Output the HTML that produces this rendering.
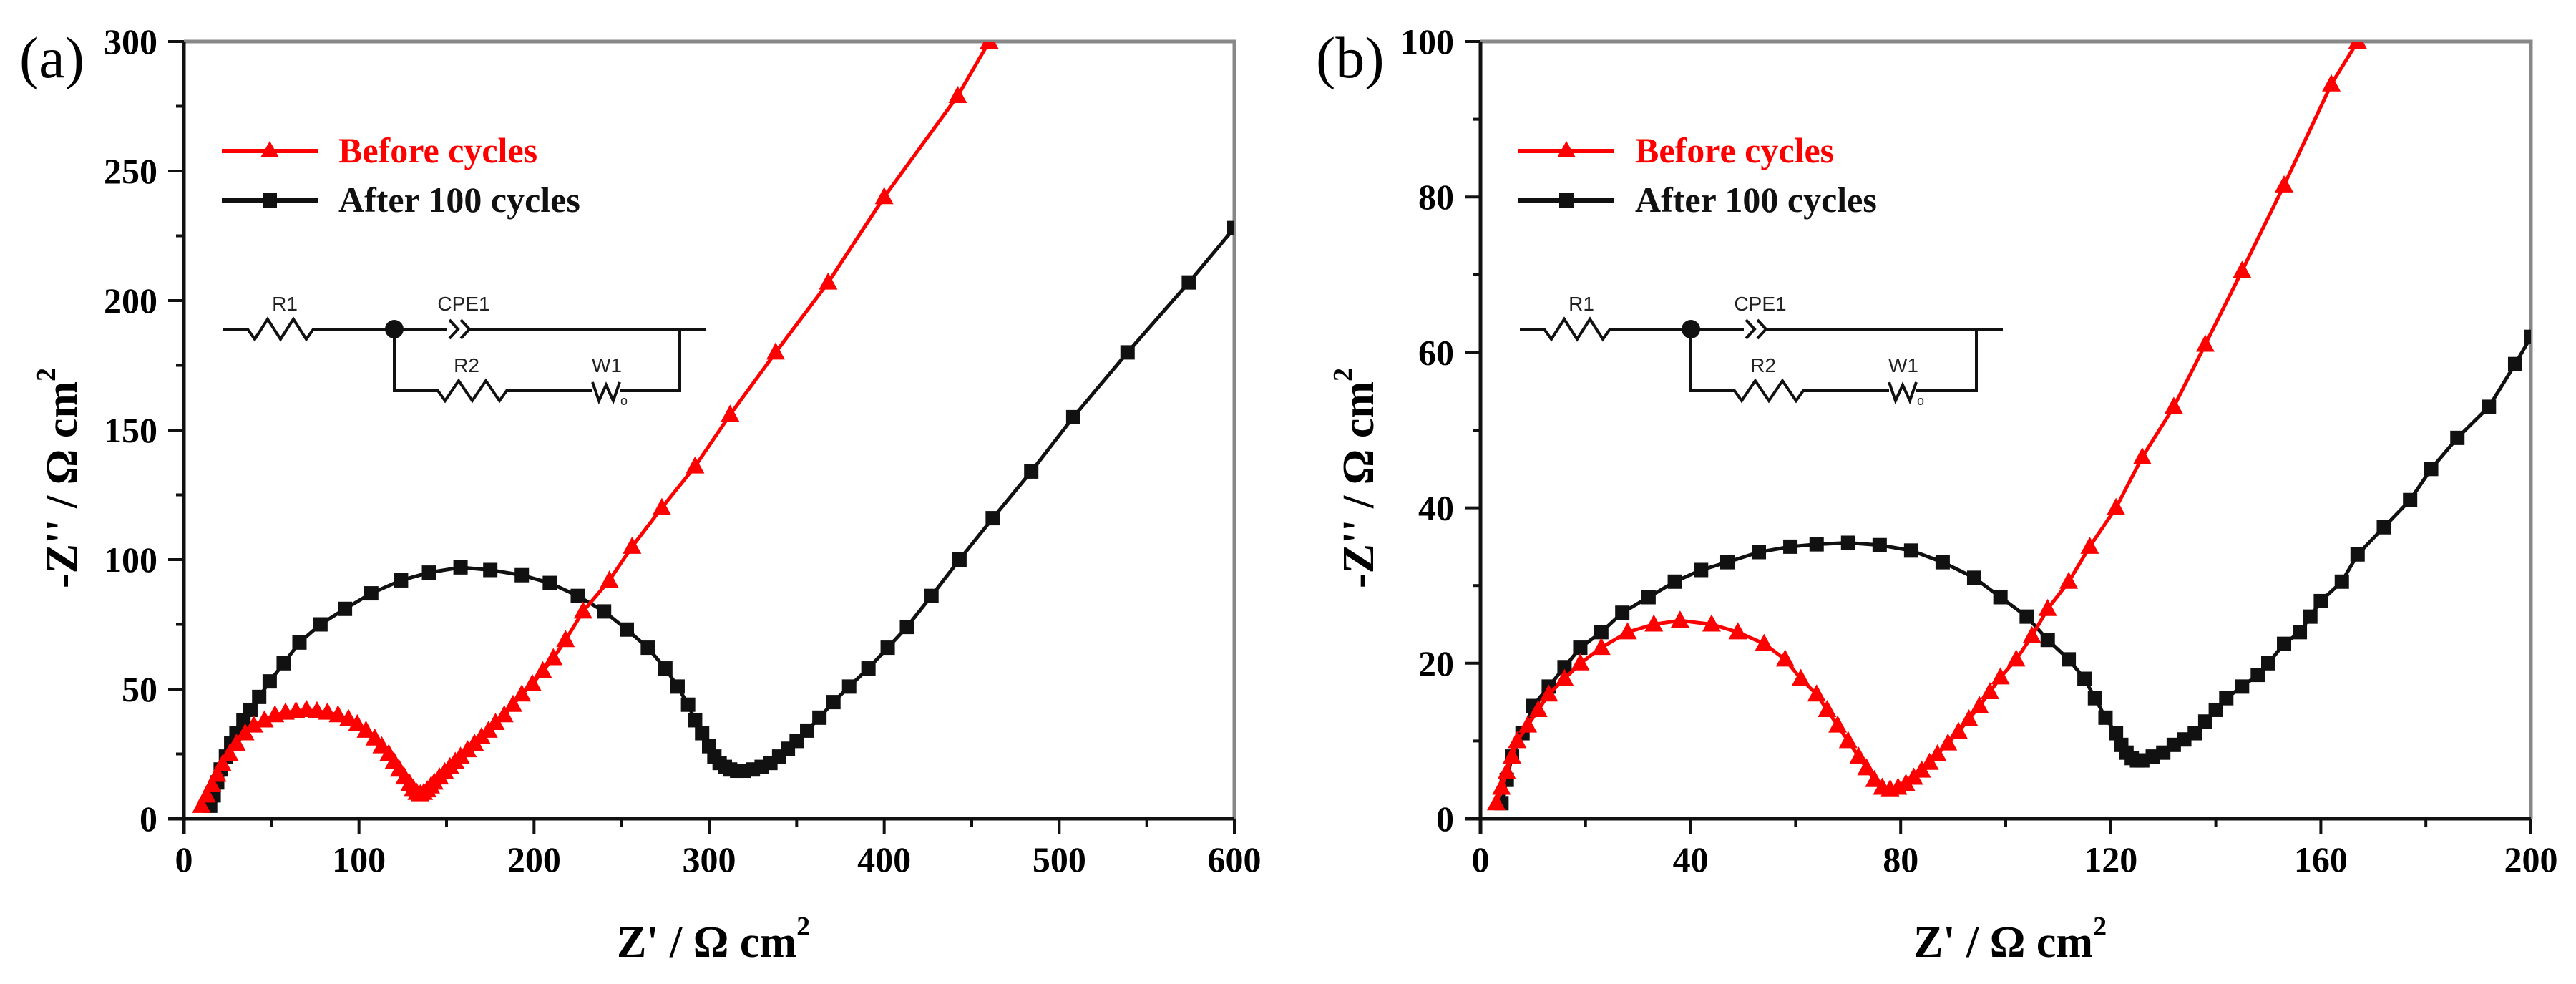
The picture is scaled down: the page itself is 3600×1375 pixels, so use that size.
<!DOCTYPE html>
<html><head><meta charset="utf-8"><style>
html,body{margin:0;padding:0;background:#fff;}
svg{display:block;}
text{font-family:"Liberation Serif","DejaVu Serif",serif;}
.ck text{font-family:"Liberation Sans","DejaVu Sans",sans-serif;}
</style></head><body>
<svg id="fig" width="3600" height="1375" viewBox="0 0 3600 1375" xmlns="http://www.w3.org/2000/svg"></svg>
<script>
// Panel (a) data
const redA_x=[10,13,16,19,22,26,30,35,40,46,52,58,64,70,76,82,88,94,99,104,109,113,117,120,123,126,129,131,133,135,137,139,141,143,146,149,152,155,158,162,166,170,174,178,183,188,193,199,205,211,218,228,243,256,273,292,312,338,368,400,442,460];
const redA_y=[5,9,13,17,21,25,29,33,36,38,40,41,41.5,42,41.5,41,40,38.5,36.5,34,31,28,25,22,19,16,13.5,11.5,10,9.5,10,11,12.5,14,16,18,20,22,24,26.5,29,31.5,34,37,40,44,48,52,57,62,69,80,92,105,120,136,156,180,207,240,279,300];
const blackA_x=[15,17,19,21,24,27,30,34,38,43,49,57,66,78,92,107,124,140,158,175,193,209,225,240,253,265,275,282,288,292,296,300,303,306,309,312,316,320,325,330,335,340,345,350,356,363,371,380,391,402,413,427,443,462,484,508,539,574,600];
const blackA_y=[5,9,14,19,24,29,33,38,42,47,53,60,68,75,81,87,92,95,97,96,94,91,86,80,73,66,58,51,44,38,33,28,24,21.5,20,19,18.5,18.5,19,20,21.5,24,27,30,34,39,45,51,58,66,74,86,100,116,134,155,180,207,228];
// Panel (b) data
const redB_x=[3,4,5,6,7,9,11,13,16,19,23,28,33,38,44,49,54,58,61,64,66,68,70,72,73.5,75,76.5,78,79.5,81,82.5,84,85.5,87,89,91,93,95,97,99,102,105,108,112,116,121,126,132,138,145,153,162,167];
const redB_y=[2,4,6,8,10,12,14,16,18,20,22,24,25,25.5,25,24,22.5,20.5,18,16,14,12,10,8,6.5,5,4,3.8,4,4.5,5.3,6.2,7.2,8.3,9.7,11.2,12.8,14.5,16.3,18.2,20.5,23.5,27,30.5,35,40,46.5,53,61,70.5,81.5,94.5,100];
const blackB_x=[4,5,6,8,10,13,16,19,23,27,32,37,42,47,53,59,64,70,76,82,88,94,99,104,108,112,115,117,119,121,122,123,124,125,126,128,130,132,134,136,138,140,142,145,148,150,153,156,158,160,164,167,172,177,181,186,192,197,200];
const blackB_y=[2,5,8,11,14.5,17,19.5,22,24,26.5,28.5,30.5,32,33,34.3,35,35.3,35.5,35.2,34.5,33,31,28.5,26,23,20.5,18,15.5,13,11,9.5,8.5,7.8,7.5,7.5,8,8.5,9.5,10.2,11,12.5,14,15.5,17,18.5,20,22.5,24,26,28,30.5,34,37.5,41,45,49,53,58.5,62];
// axis ticks
const xTicksA=[0,100,200,300,400,500,600];
const yTicksA=[0,50,100,150,200,250,300];
const xTicksB=[0,40,80,120,160,200];
const yTicksB=[0,20,40,60,80,100];
const legendLabels=["Before cycles","After 100 cycles"];

const NS="http://www.w3.org/2000/svg";
const svg=document.getElementById('fig');
function mk(tag,attrs,parent){const e=document.createElementNS(NS,tag);for(const k in attrs)e.setAttribute(k,attrs[k]);(parent||svg).appendChild(e);return e;}

function panel(cfg){
  const g=mk('g',{});
  
  
  const L=cfg.left,R=cfg.left+1468,T=58,B=1144;
  const sx=v=>L+(v-cfg.xmin)/(cfg.xmax-cfg.xmin)*(R-L);
  const sy=v=>B-(v)/(cfg.ymax)*(B-T);
  const fr=mk('path',{d:`M${L},${T}H${R}V${B}`,stroke:'#888',fill:'none','stroke-width':5},g);
  
  
  const xa=mk('line',{x1:L-22,y1:B,x2:R,y2:B,stroke:'#111','stroke-width':5},g);
  
  
  const ya=mk('line',{x1:L,y1:T,x2:L,y2:B+22,stroke:'#111','stroke-width':5},g);
  
  
  const xt=cfg.xticks;
  for(let i=0;i<xt.length;i++){
    const x=sx(xt[i]);
    mk('line',{x1:x,y1:B,x2:x,y2:B+22,stroke:'#111','stroke-width':4},g);
    if(i<xt.length-1){const xm=sx((xt[i]+xt[i+1])/2);mk('line',{x1:xm,y1:B,x2:xm,y2:B+11,stroke:'#111','stroke-width':4},g);}
    const t=mk('text',{x:x,y:1218,'text-anchor':'middle','font-size':50,'font-weight':'bold'},g);
    t.textContent=xt[i];
    
    
  }
  const yt=cfg.yticks;
  for(let i=0;i<yt.length;i++){
    const y=sy(yt[i]);
    mk('line',{x1:L-22,y1:y,x2:L,y2:y,stroke:'#111','stroke-width':4},g);
    if(i<yt.length-1){const ym=sy((yt[i]+yt[i+1])/2);mk('line',{x1:L-11,y1:ym,x2:L,y2:ym,stroke:'#111','stroke-width':4},g);}
    const t=mk('text',{x:L-37,y:y+17,'text-anchor':'end','font-size':50,'font-weight':'bold'},g);
    t.textContent=yt[i];
    
    
  }
  const xtl=mk('text',{x:L+740,y:1337,'text-anchor':'middle','font-size':62,'font-weight':'bold'},g);
  xtl.innerHTML="Z' / Ω cm<tspan dy='-30' font-size='38'>2</tspan>";
  
  
  const ytx=L-150, yty=668;
  const ytl=mk('text',{x:ytx,y:yty,transform:`rotate(-90 ${ytx} ${yty})`,'text-anchor':'middle','font-size':62,'font-weight':'bold'},g);
  ytl.innerHTML="-Z'' / Ω cm<tspan dy='-30' font-size='38'>2</tspan>";
  
  
  const pl=mk('text',{x:L-230,y:108,'font-size':82},g);
  pl.textContent=cfg.label;
  
  
  const cid='clip'+cfg.name;
  const cp=mk('clipPath',{id:cid},g);
  mk('rect',{x:L,y:T,width:R-L,height:B-T},cp);
  const dg=mk('g',{'clip-path':`url(#${cid})`},g);
  function series(xs,ys,color,shape,name){
    const sg=mk('g',{},dg);
    
    
    let d='';
    for(let i=0;i<xs.length;i++)d+=(i?'L':'M')+sx(xs[i]).toFixed(1)+','+sy(ys[i]).toFixed(1);
    mk('path',{d:d,stroke:color,fill:'none','stroke-width':5},sg);
    for(let i=0;i<xs.length;i++){
      const x=sx(xs[i]),y=sy(ys[i]);let m;
      if(shape==='tri')m=mk('path',{d:`M${x},${y-14}L${x+13},${y+10}L${x-13},${y+10}Z`,fill:color},sg);
      else m=mk('rect',{x:x-10,y:y-10,width:20,height:20,fill:color},sg);
      
      
    }
  }
  series(cfg.bx,cfg.by,'#111','sq','after-100-cycles-series');
  series(cfg.rx,cfg.ry,'#ff0000','tri','before-cycles-series');
  const o=L-257;
  const lg=mk('g',{},g);
  
  
  const cols=['#ff0000','#111'],ly=[211,280];
  for(let i=0;i<2;i++){
    const e=mk('g',{},lg);
    
    
    mk('line',{x1:310+o,y1:ly[i],x2:444+o,y2:ly[i],stroke:cols[i],'stroke-width':6},e);
    if(i===0)mk('path',{d:`M${377+o},${ly[i]-14}L${390+o},${ly[i]+9}L${364+o},${ly[i]+9}Z`,fill:cols[i]},e);
    else mk('rect',{x:367+o,y:ly[i]-10,width:20,height:20,fill:cols[i]},e);
    const t=mk('text',{x:473+o,y:ly[i]+16,'font-size':50,'font-weight':'bold',fill:cols[i]},e);
    t.textContent=legendLabels[i];
  }
  const ck=mk('g',{class:'ck',stroke:'#111','stroke-width':4,fill:'none'},g);
  
  
  const yM=460,yL=546;
  mk('path',{d:`M${312+o},${yM}H${346+o}l10,14l18,-28l18,28l18,-28l18,28l10,-14H${625+o}M${628+o},${yM-13}l12,13l-12,13M${644+o},${yM-13}l12,13l-12,13M${656+o},${yM}H${987+o}M${950+o},${yM}V${yL}H${885+o}M${828+o},${yL}H${708+o}l-10,14l-19,-28l-19,28l-19,-28l-19,28l-10,-14H${551+o}V${yM}`},ck);
  mk('path',{d:`M${828+o},${yL-12}l9,26l10,-22l10,22l9,-26M${866+o},${yL}H${885+o}`},ck);
  mk('circle',{cx:551+o,cy:yM,r:13,fill:'#111',stroke:'none'},ck);
  const labs=[['R1',398,434],['CPE1',648,434],['R2',652,520],['W1',848,520]];
  for(const lb of labs){const t=mk('text',{x:lb[1]+o,y:lb[2],'text-anchor':'middle','font-size':28,fill:'#222',stroke:'none'},ck);t.textContent=lb[0];}
  const sub=mk('text',{x:872+o,y:566,'text-anchor':'middle','font-size':18,fill:'#222',stroke:'none'},ck);
  sub.textContent='o';
}
panel({name:'panel-a',label:'(a)',left:257,xmin:0,xmax:600,ymax:300,xticks:xTicksA,yticks:yTicksA,rx:redA_x,ry:redA_y,bx:blackA_x,by:blackA_y});
panel({name:'panel-b',label:'(b)',left:2069,xmin:0,xmax:200,ymax:100,xticks:xTicksB,yticks:yTicksB,rx:redB_x,ry:redB_y,bx:blackB_x,by:blackB_y});
</script>
</body></html>
